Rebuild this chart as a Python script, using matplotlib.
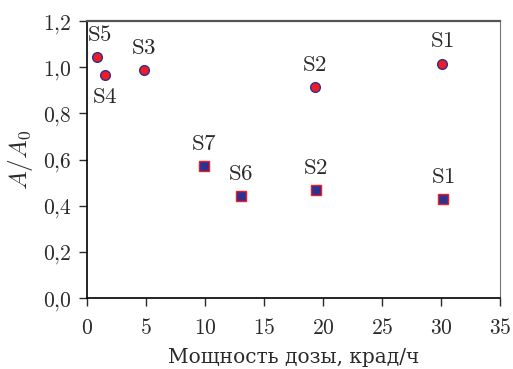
import matplotlib
matplotlib.use("Agg")
import matplotlib.pyplot as plt
from matplotlib.ticker import FuncFormatter

plt.rcParams["mathtext.fontset"] = "cm"
plt.rcParams["font.family"] = ["DejaVu Serif"]

# circles (red fill, blue edge)
circ_x = [0.85, 1.5, 4.8, 19.3, 30.1]
circ_y = [1.044, 0.966, 0.988, 0.914, 1.016]
circ_lab = ["S5", "S4", "S3", "S2", "S1"]
# squares (blue fill, red edge)
sq_x = [9.9, 13.05, 19.4, 30.2]
sq_y = [0.572, 0.440, 0.466, 0.430]
sq_lab = ["S7", "S6", "S2", "S1"]

RED, BLUE = "#ee1c25", "#2e3092"
INK = "#2a2a2a"

fig = plt.figure(figsize=(5.13, 3.69), dpi=100)
ax = fig.add_axes([0.1696, 0.1924, 0.805, 0.7506])

ax.plot(circ_x, circ_y, "o", ms=7, mfc=RED, mec=BLUE, mew=1.0, ls="none")
ax.plot(sq_x, sq_y, "s", ms=7.5, mfc=BLUE, mec=RED, mew=1.0, ls="none")

# label offsets in points
circ_off = [(2, 8), (0, -24), (0, 8), (0, 8), (0, 8)]
sq_off = [(0, 8), (0, 8), (0, 8), (0, 8)]
for x, y, s, o in zip(circ_x, circ_y, circ_lab, circ_off):
    ax.annotate(r"$\mathrm{%s}$" % s, (x, y), xytext=o, textcoords="offset points",
                ha="center", va="bottom", fontsize=16.5, color=INK)
for x, y, s, o in zip(sq_x, sq_y, sq_lab, sq_off):
    ax.annotate(r"$\mathrm{%s}$" % s, (x, y), xytext=o, textcoords="offset points",
                ha="center", va="bottom", fontsize=16.5, color=INK)

ax.set_xlim(0, 35)
ax.set_ylim(0, 1.2)
ax.set_xticks(range(0, 36, 5))
ax.set_yticks([0, 0.2, 0.4, 0.6, 0.8, 1.0, 1.2])
ax.xaxis.set_major_formatter(FuncFormatter(lambda v, p: r"$%d$" % v))
ax.yaxis.set_major_formatter(
    FuncFormatter(lambda v, p: r"$%s$" % ("%.1f" % v).replace(".", "{,}")))
ax.tick_params(direction="out", length=6, width=1.0, labelsize=15.5, colors=INK)
ax.tick_params(axis="x", pad=8)
ax.tick_params(axis="y", pad=5)

ax.spines["left"].set_linewidth(1.2)
ax.spines["bottom"].set_linewidth(1.2)
ax.spines["top"].set_linewidth(1.6)
ax.spines["top"].set_color("#555555")
ax.spines["right"].set_linewidth(0.8)
ax.spines["right"].set_color("#777777")

ax.set_xlabel("Мощность дозы, крад/ч", fontsize=14.5, color=INK, labelpad=6)
ax.set_ylabel(r"$A/A_0$", fontsize=18, color=INK, labelpad=6)

fig.savefig("out.png", dpi=100)
